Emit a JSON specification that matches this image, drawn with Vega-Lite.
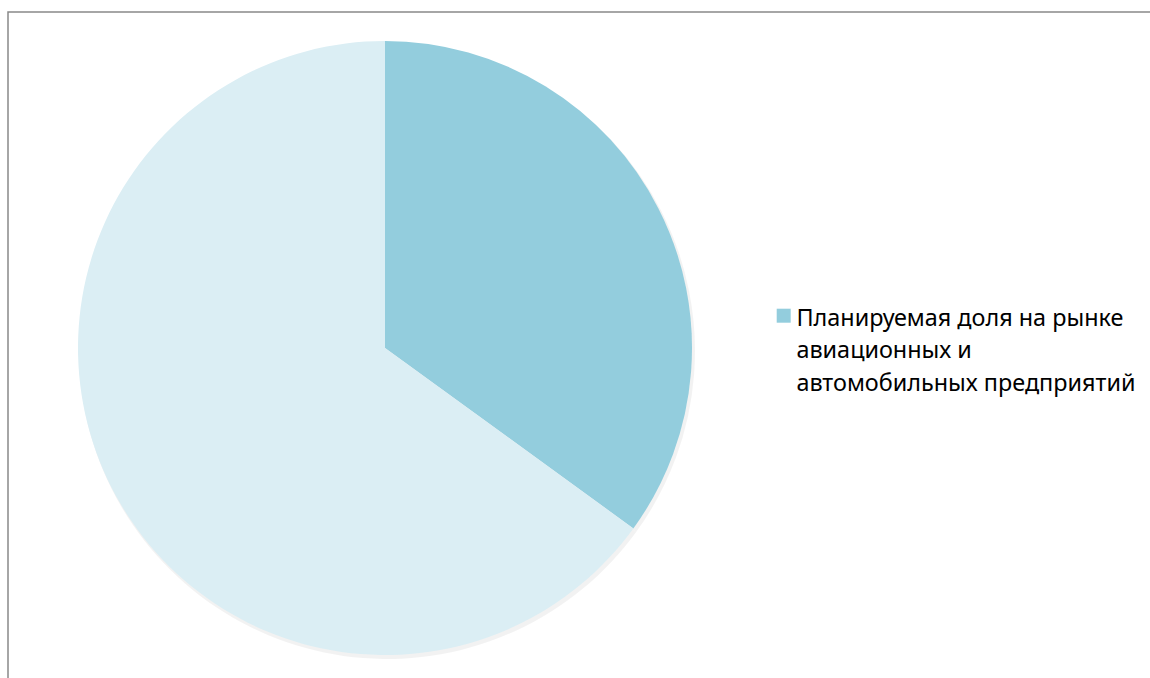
{
  "$schema": "https://vega.github.io/schema/vega-lite/v6.json",
  "width": 1160,
  "height": 700,
  "autosize": "none",
  "padding": {"left": 8, "top": 12, "right": 0, "bottom": 0},
  "background": "#ffffff",
  "view": {"stroke": "#898989", "strokeWidth": 1.5, "fill": "#ffffff"},
  "config": {
    "view": {"stroke": "#898989", "strokeWidth": 1.5},
    "style": {"guide-label": {"lineHeight": 32.5, "dy": -8}}
  },
  "data": {"values": [
    {"category": "Планируемая доля на рынке\nавиационных и\nавтомобильных предприятий", "value": 35, "order": 1},
    {"category": "Остальная доля рынка", "value": 65, "order": 2}
  ]},
  "layer": [
    {
      "mark": {"type": "arc", "radius": 308, "x": 379, "y": 339, "color": "#000000", "opacity": 0.05},
      "encoding": {
        "theta": {"field": "value", "type": "quantitative", "stack": true},
        "order": {"field": "order"}
      }
    },
    {
      "mark": {"type": "arc", "radius": 307, "x": 377, "y": 336},
      "encoding": {
        "theta": {"field": "value", "type": "quantitative", "stack": true},
        "order": {"field": "order"},
        "color": {
          "field": "category",
          "type": "nominal",
          "sort": null,
          "scale": {
            "domain": ["Планируемая доля на рынке\nавиационных и\nавтомобильных предприятий", "Остальная доля рынка"],
            "range": ["#93cddd", "#dbeef4"]
          },
          "legend": {
            "values": ["Планируемая доля на рынке\nавиационных и\nавтомобильных предприятий"],
            "orient": "none",
            "legendX": 764,
            "legendY": 292,
            "title": null,
            "symbolType": "square",
            "symbolSize": 196,
            "symbolStrokeWidth": 0,
            "labelFont": "Noto Sans",
            "labelFontSize": 23.4,
            "labelOffset": 1,
            "labelColor": "#000000",
            "labelLimit": 0,
            "labelBaseline": "top",
            "labelExpr": "split(datum.label, '\\n')"
          }
        }
      }
    }
  ]
}
